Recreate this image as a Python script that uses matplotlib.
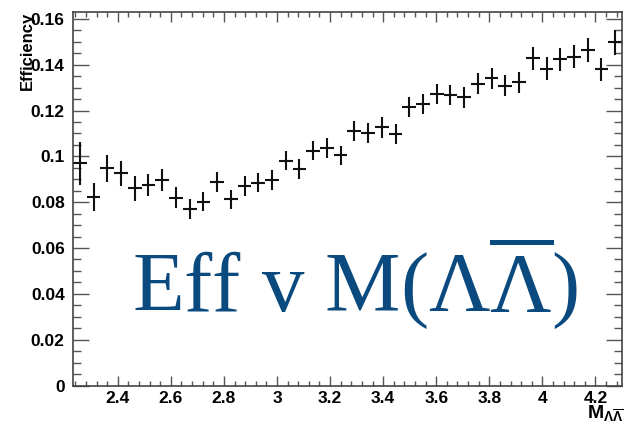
import numpy as np
import matplotlib.pyplot as plt
from matplotlib.ticker import MultipleLocator

plt.rcParams['mathtext.fontset'] = 'custom'
plt.rcParams['mathtext.rm'] = 'Liberation Serif'
plt.rcParams['mathtext.bf'] = 'Liberation Sans:bold'

# efficiency per mass bin, 40 bins from threshold to 4.3 GeV
m_lo, m_hi, n_bins = 2.2314, 4.3, 40
eff = [0.0969, 0.0824, 0.0948, 0.0926, 0.0861, 0.0874, 0.0897, 0.0820,
       0.0769, 0.0802, 0.0888, 0.0813, 0.0871, 0.0885, 0.0897, 0.0981,
       0.0945, 0.1025, 0.1036, 0.1004, 0.1111, 0.1102, 0.1126, 0.1096,
       0.1216, 0.1230, 0.1273, 0.1268, 0.1257, 0.1316, 0.1340, 0.1308,
       0.1323, 0.1428, 0.1383, 0.1424, 0.1434, 0.1465, 0.1380, 0.1497]
eff_err = [0.0092, 0.0061, 0.0060, 0.0055, 0.0055, 0.0047, 0.0047, 0.0045,
           0.0043, 0.0042, 0.0042, 0.0042, 0.0042, 0.0042, 0.0042, 0.0042,
           0.0042, 0.0042, 0.0042, 0.0043, 0.0044, 0.0044, 0.0044, 0.0044,
           0.0044, 0.0044, 0.0044, 0.0044, 0.0044, 0.0046, 0.0046, 0.0046,
           0.0046, 0.0050, 0.0050, 0.0050, 0.0050, 0.0052, 0.0051, 0.0055]

edges = np.linspace(m_lo, m_hi, n_bins + 1)
centers = 0.5 * (edges[:-1] + edges[1:])
half_w = 0.5 * (edges[1] - edges[0])

fig = plt.figure(figsize=(6.29, 4.26), dpi=100)
ax = fig.add_axes([73 / 629, 1 - 385.5 / 426, 549 / 629, 373.5 / 426])

ax.errorbar(centers, eff, xerr=half_w, yerr=eff_err, fmt='none',
            ecolor='#111111', elinewidth=1.5, capsize=0)

ax.set_xlim(m_lo, m_hi)
ax.set_ylim(0, 0.163)

ax.xaxis.set_major_locator(MultipleLocator(0.2))
ax.xaxis.set_minor_locator(MultipleLocator(0.04))
ax.yaxis.set_major_locator(MultipleLocator(0.02))
ax.yaxis.set_minor_locator(MultipleLocator(0.005))
ax.set_xticks(np.arange(2.4, 4.21, 0.2))
ax.set_xticklabels(['2.4', '2.6', '2.8', '3', '3.2', '3.4', '3.6', '3.8', '4', '4.2'])
ax.set_yticks(np.arange(0, 0.161, 0.02))
ax.set_yticklabels(['0', '0.02', '0.04', '0.06', '0.08', '0.1', '0.12', '0.14', '0.16'])

ax.tick_params(which='both', direction='in', top=True, right=True, color='#555555', width=1.0)
ax.tick_params(axis='x', which='major', length=7.2, pad=4)
ax.tick_params(axis='x', which='minor', length=3.6)
ax.tick_params(axis='y', which='major', length=11.5, pad=6)
ax.tick_params(axis='y', which='minor', length=6.0)
for lab in ax.get_xticklabels() + ax.get_yticklabels():
    lab.set_fontfamily('Liberation Sans')
    lab.set_fontweight('bold')
    lab.set_fontsize(12.5)

for sp in ax.spines.values():
    sp.set_color('#444444')
    sp.set_linewidth(1.2)

fig.text(27 / 629, 1 - 12 / 426, 'Efficiency', rotation=90, ha='center', va='top',
         fontfamily='Liberation Sans', fontweight='bold', fontsize=12)
fig.text(624 / 629, 1 - 425 / 426, r'$\mathbf{M}_{\mathbf{\Lambda}\overline{\mathbf{\Lambda}}}$',
         ha='right', va='bottom', fontsize=14)

ax.text(0.108, 0.197, r'Eff v M($\mathrm{\Lambda}\overline{\mathrm{\Lambda}}$)',
        transform=ax.transAxes, fontfamily='Liberation Serif', fontsize=61,
        color='#0b4a7e', ha='left', va='baseline')

fig.savefig('out.png', dpi=100)
